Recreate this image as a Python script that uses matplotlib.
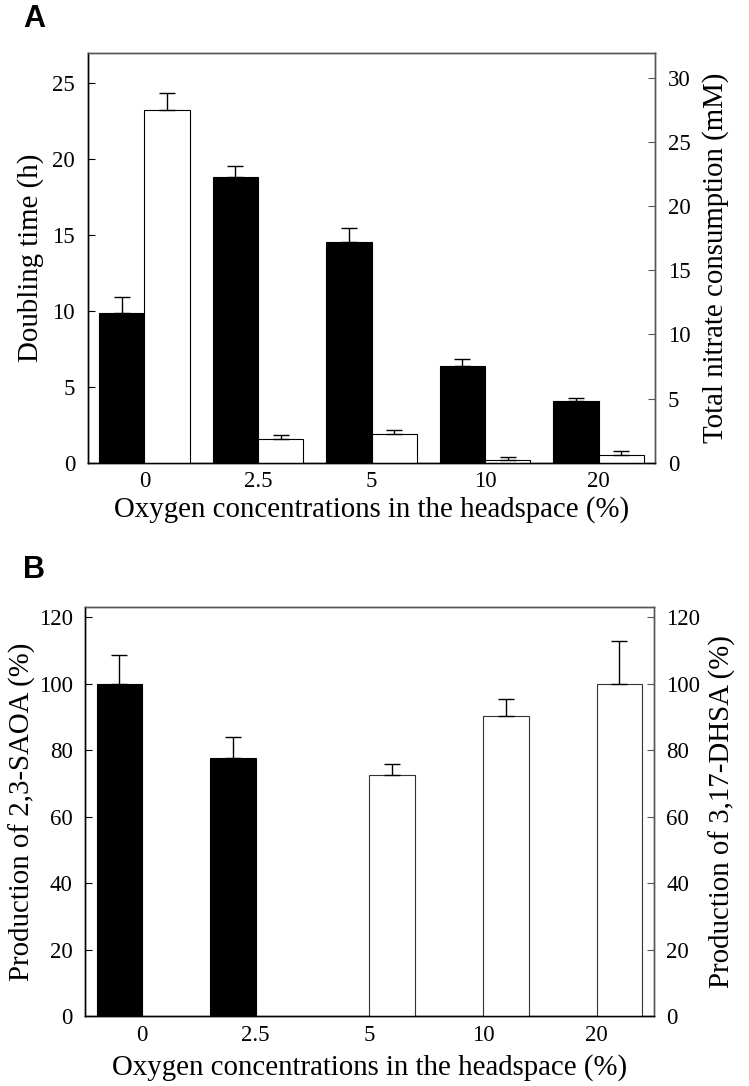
import matplotlib
matplotlib.use("Agg")
import matplotlib.pyplot as plt
import numpy as np

plt.rcParams['font.family'] = ['Liberation Serif', 'DejaVu Serif']

categories = ["0", "2.5", "5", "10", "20"]

# Panel A
doubling_time = [9.87, 18.79, 14.56, 6.37, 4.03]
doubling_err = [1.05, 0.75, 0.86, 0.48, 0.25]
nitrate = [27.5, 1.81, 2.27, 0.24, 0.57]
nitrate_err = [1.35, 0.32, 0.29, 0.22, 0.32]

# Panel B
saoa_cats = ["0", "2.5"]
saoa = [100.0, 77.8]
saoa_err = [8.8, 6.3]
dhsa_cats = ["5", "10", "20"]
dhsa = [72.7, 90.3, 100.0]
dhsa_err = [3.2, 5.0, 13.0]

W, H = 749, 1086
fig = plt.figure(figsize=(W / 100, H / 100), dpi=100)

spine_gray = "#555555"
tick_fs = 16.5
label_fs = 20.8
bw = 0.4

def style(ax, ax2):
    for a in (ax, ax2):
        a.spines['top'].set_color(spine_gray)
        a.spines['right'].set_color(spine_gray)
        a.spines['left'].set_color("black")
        a.spines['bottom'].set_color("black")
        for s in a.spines.values():
            s.set_linewidth(1.0)
    ax.tick_params(axis='y', direction='in', length=5, labelsize=tick_fs, pad=9)
    ax2.tick_params(axis='y', direction='in', length=5, labelsize=tick_fs, pad=9,
                    color=spine_gray)
    ax.tick_params(axis='x', length=0, labelsize=tick_fs, pad=6)

err_kw = dict(ecolor='black', elinewidth=1.0, capsize=6, capthick=1.0)

# Panel A
axA = fig.add_axes([0.117, 0.574, 0.758, 0.3776])
x = np.arange(len(categories))
axA.bar(x - bw / 2, doubling_time, bw, color='black', edgecolor='black', linewidth=0.8,
        yerr=[np.zeros(len(x)), doubling_err], error_kw=err_kw, zorder=2)
axA.set_ylim(0, 27)
axA.set_xlim(-0.5, 4.5)
axA.set_yticks([0, 5, 10, 15, 20, 25])
axA.set_xticks(x)
axA.set_xticklabels(categories)
axA.set_ylabel("Doubling time (h)", fontsize=label_fs, labelpad=6)
axA.set_xlabel("Oxygen concentrations in the headspace (%)", fontsize=label_fs, labelpad=3)
axA2 = axA.twinx()
axA2.bar(x + bw / 2, nitrate, bw, color='white', edgecolor='black', linewidth=0.8,
         yerr=[np.zeros(len(x)), nitrate_err], error_kw=err_kw, zorder=2)
axA2.set_ylim(0, 32)
axA2.set_yticks([0, 5, 10, 15, 20, 25, 30])
axA2.set_ylabel("Total nitrate consumption (mM)", fontsize=label_fs, labelpad=8)
style(axA, axA2)

# Panel B
axB = fig.add_axes([0.1138, 0.0642, 0.7588, 0.3766])
xs = [categories.index(c) for c in saoa_cats]
xd = [categories.index(c) for c in dhsa_cats]
axB.bar(np.array(xs) - bw / 2, saoa, bw, color='black', edgecolor='black', linewidth=0.8,
        yerr=[np.zeros(len(xs)), saoa_err], error_kw=err_kw, zorder=2)
axB.set_ylim(0, 123)
axB.set_xlim(-0.5, 4.5)
axB.set_yticks(np.arange(0, 121, 20))
axB.set_xticks(x)
axB.set_xticklabels(categories)
axB.set_ylabel("Production of 2,3-SAOA (%)", fontsize=label_fs, labelpad=2)
axB.set_xlabel("Oxygen concentrations in the headspace (%)", fontsize=label_fs, labelpad=6)
axB2 = axB.twinx()
axB2.bar(np.array(xd) + bw / 2, dhsa, bw, color='white', edgecolor='#333333', linewidth=0.8,
         yerr=[np.zeros(len(xd)), dhsa_err], error_kw=err_kw, zorder=2)
axB2.set_ylim(0, 123)
axB2.set_yticks(np.arange(0, 121, 20))
axB2.set_ylabel("Production of 3,17-DHSA (%)", fontsize=label_fs, labelpad=6)
style(axB, axB2)

fig.text(23 / W, 1 - 27 / H, "A", fontsize=22, fontweight='bold',
         family='Liberation Sans', ha='left', va='baseline')
fig.text(23 / W, 1 - 578 / H, "B", fontsize=22, fontweight='bold',
         family='Liberation Sans', ha='left', va='baseline')

fig.savefig("out.png", dpi=100)
